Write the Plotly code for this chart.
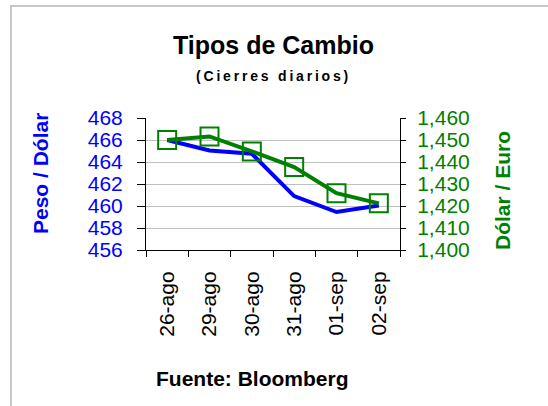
import plotly.graph_objects as go

fechas = ['26-ago', '29-ago', '30-ago', '31-ago', '01-sep', '02-sep']
peso_dolar = [466.0, 465.05, 464.75, 460.9, 459.45, 460.05]
dolar_euro = [1450.0, 1451.6, 1444.8, 1437.7, 1425.8, 1421.2]

azul = '#0000FF'
verde = '#008000'
fuente = 'Liberation Sans, Arial, sans-serif'

# area de trazado en pixeles
L, R, T, B = 146, 400, 118, 250


def px(x):
    return (x - L) / (R - L)


def py(y):
    return (B - y) / (B - T)


fig = go.Figure()
fig.add_trace(go.Scatter(
    x=fechas, y=peso_dolar,
    mode='lines',
    name='Peso / Dólar',
    line=dict(color=azul, width=4),
))
fig.add_trace(go.Scatter(
    x=fechas, y=dolar_euro,
    mode='lines+markers',
    name='Dólar / Euro',
    yaxis='y2',
    line=dict(color=verde, width=4),
    marker=dict(symbol='square-open', size=18, color=verde, line=dict(width=2, color=verde)),
))

fig.update_layout(
    width=548, height=406,
    margin=dict(l=L, r=548 - R, t=T, b=406 - B),
    paper_bgcolor='white',
    plot_bgcolor='white',
    showlegend=False,
    font=dict(family=fuente, size=21, color='black'),
    xaxis=dict(
        type='category',
        tickson='boundaries',
        ticks='outside', ticklen=6, tickcolor='black',
        showline=True, linecolor='black', linewidth=1,
        showgrid=False,
        tickangle=-90,
        ticklabelstandoff=12,
        tickfont=dict(size=21, color='black'),
        range=[-0.5, 5.5],
    ),
    yaxis=dict(
        range=[456, 468], dtick=2,
        ticks='outside', ticklen=8, tickcolor='black',
        showline=True, linecolor='black', linewidth=1,
        showgrid=True, gridcolor='#c0c0c0', gridwidth=1,
        zeroline=False,
        tickfont=dict(size=21, color=azul),
        ticklabelstandoff=10,
    ),
    yaxis2=dict(
        overlaying='y', side='right',
        range=[1400, 1460], dtick=10,
        tickformat=',d',
        ticks='outside', ticklen=5, tickcolor='black',
        showline=True, linecolor='black', linewidth=1,
        showgrid=False, zeroline=False,
        tickfont=dict(size=21, color=verde),
        ticklabelstandoff=7,
    ),
)

# marco gris del gráfico
fig.add_shape(type='rect', xref='paper', yref='paper',
              x0=px(11), x1=px(600), y0=py(460), y1=py(6),
              line=dict(color='#c8c8c8', width=2), layer='below')

subtitulo = '\u2009'.join('(Cierres diarios)')
textos = [
    ('<b>Tipos de Cambio</b>', 273, 45, 25, 'black', 0),
    ('<b>' + subtitulo + '</b>', 272, 76, 14, 'black', 0),
    ('<b>Fuente: Bloomberg</b>', 252, 378, 21, 'black', 0),
    ('<b>Peso / Dólar</b>', 40, 174, 21, azul, -90),
    ('<b>Dólar / Euro</b>', 502, 191, 21, verde, -90),
]
for texto, x, y, tam, color, ang in textos:
    fig.add_annotation(text=texto, xref='paper', yref='paper',
                       x=px(x), y=py(y), xanchor='center', yanchor='middle',
                       showarrow=False, textangle=ang,
                       font=dict(size=tam, color=color))

fig.write_html('out.html', config={'displayModeBar': False},
               post_script="document.body.style.margin='0';")
